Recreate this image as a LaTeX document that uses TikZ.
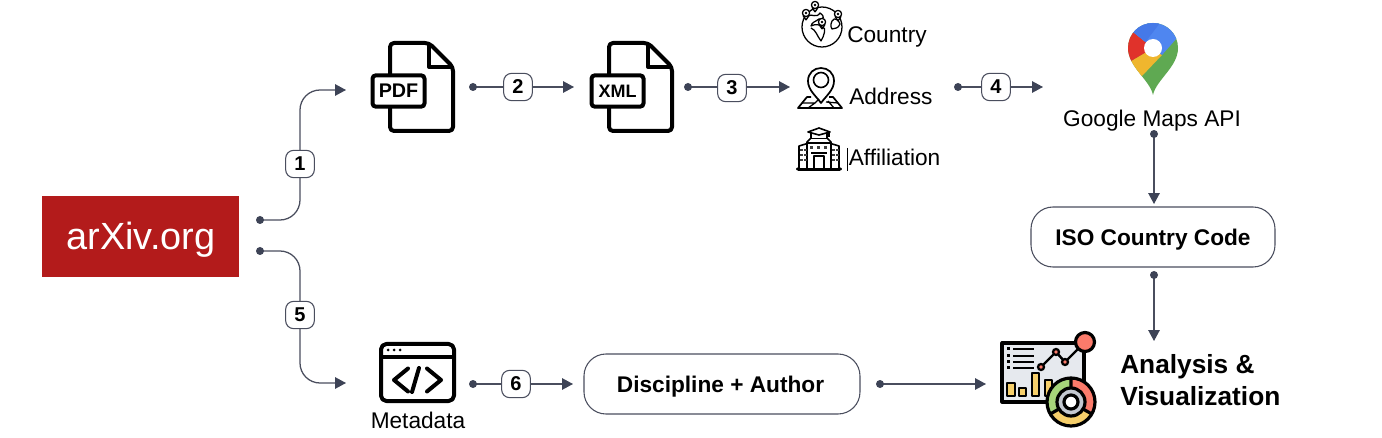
\documentclass[tikz,border=0pt]{standalone}
\usepackage{fontspec}
\setmainfont{Liberation Sans}
\usetikzlibrary{arrows.meta}
\definecolor{linec}{HTML}{4A4E5E}
\definecolor{dotc}{HTML}{3D4356}
\definecolor{arx}{HTML}{B31B1B}
\definecolor{mgreen}{HTML}{5FA952}
\definecolor{mblue}{HTML}{4F86F0}
\definecolor{mbluedk}{HTML}{4579E8}
\definecolor{mred}{HTML}{E0322B}
\definecolor{myellow}{HTML}{EFB62E}
\definecolor{dgrey}{HTML}{E6E9EE}
\definecolor{dyellow}{HTML}{F6CF6B}
\definecolor{dred}{HTML}{FB7B6B}
\definecolor{dgreen}{HTML}{A6D47A}
\definecolor{dring}{HTML}{C4C9D1}
\tikzset{
  conn/.style={draw=linec,line width=0.95pt,rounded corners=15pt,-{Triangle[length=8.2pt,width=8.6pt,color=dotc]}},
  numlab/.style={draw=linec,fill=white,line width=0.8pt,rounded corners=6pt,minimum width=21.5pt,minimum height=20.5pt,inner sep=0pt,font=\fontsize{15}{16}\selectfont\bfseries},
  plain/.style={inner sep=0pt,anchor=base west,font=\fontsize{17}{20}\selectfont},
  plainc/.style={inner sep=0pt,anchor=base,font=\fontsize{17}{20}\selectfont},
  boldc/.style={inner sep=0pt,anchor=base,font=\fontsize{17}{20}\selectfont\bfseries},
  bigb/.style={inner sep=0pt,anchor=base west,font=\fontsize{19.7}{24}\selectfont\bfseries},
  pill/.style={draw=linec,fill=white,line width=0.8pt,rounded corners=16.5pt},
  docln/.style={line width=3pt,line join=round,black},
  iconthin/.style={line width=0.95pt,black,line join=round},
  iconln/.style={line width=2.4pt,black,line join=round},
  doclab/.style={draw=black,fill=white,line width=3pt,rounded corners=2.5pt,minimum width=39pt,minimum height=23.5pt,inner sep=0pt,font=\fontsize{14.8}{16}\selectfont\bfseries}
}
\newcommand{\startdot}[1]{\fill[dotc] (#1) circle [radius=4];}
\newcommand{\docicon}[1]{%
  \begin{scope}[xshift=#1*0.75pt]
  \draw[docln,rounded corners=3pt] (390,74) -- (390,43) -- (429,43) -- (453,67) -- (453,131) -- (390,131) -- (390,108);
  \draw[docln] (429,43) -- (429,67) -- (453,67);
  \end{scope}}
\begin{document}
\begin{tikzpicture}[x=0.75pt,y=-0.75pt]
\useasboundingbox (0,0) rectangle (1382,438);
\fill[white] (0,0) rectangle (1382,438);

% arXiv
\node[fill=arx,minimum width=147.75pt,minimum height=60.75pt,inner sep=0pt] (arxiv) at (140.5,236.5) {};
\node[inner sep=0pt,anchor=base,text=white,font=\fontsize{28.4}{32}\selectfont] (arxivt) at (141,250) {arXiv.org};

% PDF, XML
\docicon{0}
\docicon{219}
\node[doclab] (pdf) at (398.5,91) {PDF};
\node[doclab,font=\fontsize{13.5}{16}\selectfont\bfseries] (xml) at (617.5,91) {XML};

% Anchors
\coordinate (d1) at (260,220);
\coordinate (d5) at (260,251);
\coordinate (d2) at (473,87);
\coordinate (d3) at (688,87);
\coordinate (d4) at (958,87);
\coordinate (d6) at (473,384);
\coordinate (d7) at (880,384);
\coordinate (d8) at (1154,134);
\coordinate (d9) at (1154,275);
\coordinate (e1) at (346,90);
\coordinate (e5) at (346,383);
\coordinate (e2) at (574,87);
\coordinate (e3) at (790,87);
\coordinate (e4) at (1043,87);
\coordinate (e6) at (573,384);
\coordinate (e7) at (986,384);
\coordinate (e8) at (1154,204);
\coordinate (e9) at (1154,341);

% Connectors
\draw[conn] (d1) -- (300,220) -- (300,90) -- (e1);
\draw[conn] (d5) -- (300,251) -- (300,383) -- (e5);
\draw[conn] (d2) -- (e2);
\draw[conn] (d3) -- (e3);
\draw[conn] (d4) -- (e4);
\draw[conn] (d6) -- (e6);
\draw[conn] (d7) -- (e7);
\draw[conn] (d8) -- (e8);
\draw[conn] (d9) -- (e9);
\startdot{d1}\startdot{d5}\startdot{d2}\startdot{d3}\startdot{d4}\startdot{d6}\startdot{d7}\startdot{d8}\startdot{d9}

% Number labels
\node[numlab] (n1) at (300,164) {1};
\node[numlab] (n2) at (518,87) {2};
\node[numlab] (n3) at (732,88) {3};
\node[numlab] (n4) at (996,87) {4};
\node[numlab] (n5) at (300,315) {5};
\node[numlab] (n6) at (516,384) {6};

% Pills
\draw[pill] (1031,207) rectangle (1275,267);
\node[boldc] (iso) at (1153,245.5) {ISO Country Code};
\draw[pill] (584,354) rectangle (860,414);
\node[boldc] (disc) at (720.5,392.5) {Discipline + Author};

% Texts
\node[plain] (country) at (847,42.7) {Country};
\node[plain] (address) at (849,104.7) {Address};
\node[plain] (affil) at (848.5,165.7) {Affiliation};
\draw[line width=0.7pt,black] (847.5,148) -- (847.5,171);
\node[plainc] (gmaps) at (1152,126.7) {Google Maps API};
\node[plainc] (meta) at (418,428) {Metadata};
\node[bigb] (ana) at (1120,373.5) {Analysis \&};
\node[bigb] (vis) at (1120,405) {Visualization};

% Metadata icon
\draw[docln,rounded corners=4pt] (381,344) rectangle (454,401);
\draw[docln] (381,357) -- (454,357);
\fill[black] (388,350) circle [radius=1.5] (394,350) circle [radius=1.5] (400,350) circle [radius=1.5];
\draw[docln,line cap=round] (408,368.5) -- (394,380) -- (408,391.5);
\draw[docln,line cap=round] (427,368.5) -- (441,380) -- (427,391.5);
\draw[docln,line cap=round] (419,368) -- (412,392);

% Globe icon
\draw[iconthin,fill=white] (822,27) circle [radius=20];
\draw[iconthin] (808,16) .. controls (812,13) and (816,19) .. (820,13) .. controls (825,16) and (824,20) .. (819,19) .. controls (815,22) and (812,22) .. (811,26) .. controls (815,24) and (820,24) .. (822,27) .. controls (827,27) and (824,36) .. (821,41) .. controls (817,36) and (816,30) .. (811,28);
\draw[iconthin] (832,21) .. controls (835,16) and (839,21) .. (840,24) .. controls (838,29) and (835,28) .. (832,29) .. controls (830,26) and (831,23) .. (832,21);
\foreach \px/\py in {815/6,806/14,838/15,822/23}{
  \draw[iconthin,fill=white] (\px,\py-1) circle [radius=3.6];
  \draw[iconthin] (\px,\py+6) -- (\px-3,\py+1.5) (\px,\py+6) -- (\px+3,\py+1.5);
  \fill[black] (\px,\py-1) circle [radius=1.3];
}

% Address icon
\draw[iconthin,line width=1.3pt,fill=white] (821,103) .. controls (816,96) and (808,90) .. (808,81) .. controls (808,73) and (814,68) .. (821,68) .. controls (828,68) and (834,73) .. (834,81) .. controls (834,90) and (826,96) .. (821,103) -- cycle;
\draw[iconthin,line width=1.2pt] (821,80) circle [radius=7.5];
\draw[iconthin,line width=1.3pt] (811,97) -- (807,97) -- (798,108) -- (842,108) -- (833,97) -- (829,97);
\draw[iconthin] (802,103) -- (815,103) -- (819,99) (826,102) -- (838,103) (815,103) -- (808,108) (828,101) -- (834,108);

% Affiliation icon
\draw[iconthin,line width=1.2pt,fill=white,rounded corners=1pt] (797,168) -- (841,168) -- (841,170) -- (797,170) -- cycle;
\draw[iconthin,line width=1.2pt,fill=white] (799,168) -- (799,146) -- (809,143) -- (809,168);
\draw[iconthin,line width=1.2pt,fill=white] (839,168) -- (839,146) -- (829,143) -- (829,168);
\draw[iconthin,line width=1.2pt,fill=white] (807,168) -- (807,142) -- (811,138) -- (827,138) -- (831,142) -- (831,168);
\draw[iconthin,line width=1.2pt] (806,143) -- (832,143);
\draw[iconthin,line width=1.2pt,fill=white] (811,138) -- (811,133) -- (827,133) -- (827,138);
\draw[iconthin,line width=1.2pt,fill=white] (808,132) -- (819,128) -- (830,132) -- (819,135) -- cycle;
\draw[iconthin] (829,132) -- (829,137);
\draw[iconthin,line width=1.2pt,fill=white] (814,168) -- (814,156) -- (824,156) -- (824,168);
\draw[iconthin] (811,153) -- (827,153);
\foreach \wx in {801,805,833,837}{\foreach \wy in {150,155,160}{
  \fill[black!75] (\wx-1,\wy-1) rectangle (\wx+1.5,\wy+1.5);}}
\foreach \wx in {811,818,825}{\fill[black!75] (\wx-1,146) rectangle (\wx+1.5,149);}

% Google Maps pin
\begin{scope}
\clip (1153,95) .. controls (1150,80) and (1128,67) .. (1128,48) .. controls (1128,34) and (1139,23) .. (1153,23) .. controls (1167,23) and (1178,34) .. (1178,48) .. controls (1178,67) and (1156,80) .. (1153,95) -- cycle;
\fill[mgreen] (1120,15) rectangle (1185,100);
\fill[myellow] (1153,48) -- (1131,61) -- (1120,70) -- (1130,88) -- (1142,76) -- (1162,55) -- cycle;
\fill[mred] (1153,48) -- (1133,32) -- (1120,20) -- (1120,70) -- (1131,61) -- cycle;
\fill[mblue] (1153,48) -- (1133,32) -- (1150,15) -- (1190,15) -- (1177,38) -- (1162,55) -- cycle;
\fill[mbluedk] (1153,48) -- (1133,32) -- (1150,15) -- (1166,15) -- (1147,40) -- cycle;
\end{scope}
\fill[white] (1153,48) circle [radius=9];

% Dashboard icon
\draw[iconln,fill=dgrey] (1002,343) rectangle (1084,402);
\foreach \ry in {349,356,362,368}{
  \fill[black] (1007,\ry-1.5) rectangle (1010,\ry+1.5);
  \draw[black,line width=1.8pt] (1013,\ry) -- (1034,\ry);
}
\foreach \bx/\bw/\by in {1007/8/383,1019/7/388,1032/7/373,1045/7/380}{
  \draw[iconln,line width=1.8pt,fill=dyellow] (\bx,396) rectangle (\bx+\bw,\by);
}
\draw[black,line width=1.8pt] (1041,367) -- (1056,352) -- (1065,362) -- (1085,342);
\foreach \cx/\cy in {1041/367,1056/352,1065/362}{
  \draw[black,line width=1.7pt,fill=dred] (\cx,\cy) circle [radius=3];
}
\draw[iconln,fill=dred] (1085,342) circle [radius=9.5];
% donut
\fill[dred] (1071,402) -- (1071,378) arc [start angle=-90,end angle=30,radius=24] -- cycle;
\fill[dyellow] (1071,402) -- (1091.8,414) arc [start angle=30,end angle=150,radius=24] -- cycle;
\fill[dgreen] (1071,402) -- (1050.2,414) arc [start angle=150,end angle=270,radius=24] -- cycle;
\draw[iconln] (1071,402) circle [radius=24];
\draw[iconln] (1071,378) -- (1071,388) (1091.8,414) -- (1083,409) (1050.2,414) -- (1059,409);
\draw[iconln,fill=dring] (1071,402) circle [radius=14];
\draw[iconln,fill=white] (1071,402) circle [radius=7];
\end{tikzpicture}
\end{document}
